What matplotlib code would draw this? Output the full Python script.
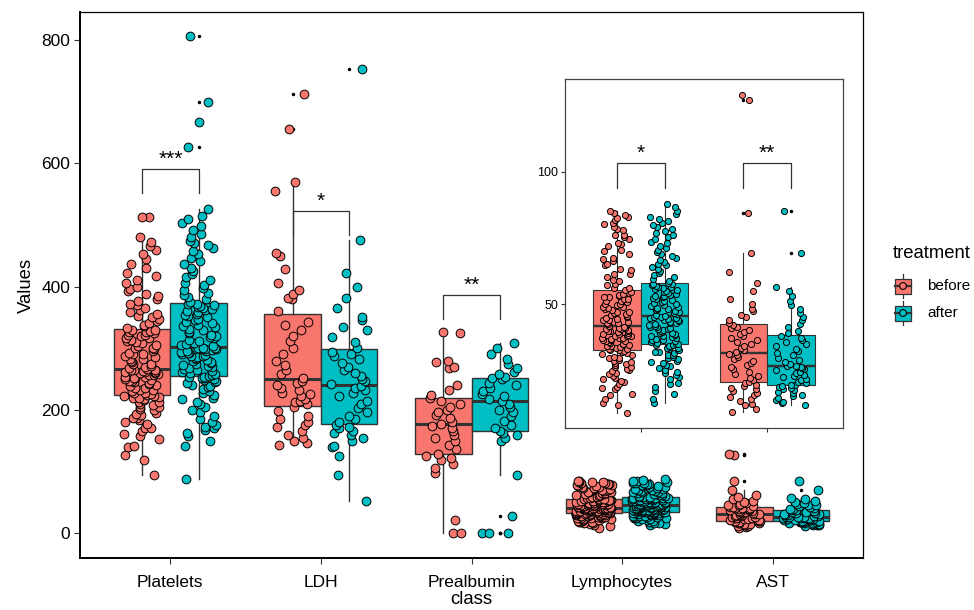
import numpy as np
import matplotlib
matplotlib.use('Agg')
import matplotlib.pyplot as plt
from matplotlib.patches import Rectangle, Circle

plt.rcParams['font.family'] = ['Liberation Sans', 'DejaVu Sans']

classes = ['Platelets', 'LDH', 'Prealbumin', 'Lymphocytes', 'AST']
treatments = ['before', 'after']
colors = {'before': '#F8766D', 'after': '#00BFC4'}

# values (one list per box)
platelets_before = [
    94, 118, 127, 139, 141, 152, 158, 161, 166, 170, 171, 177, 180, 183, 186, 187, 191, 194,
    195, 199, 201, 204, 204, 208, 210, 212, 213, 216, 217, 219, 220, 221, 222, 223, 224,
    225, 227, 227, 230, 232, 233, 236, 236, 239, 240, 242, 243, 245, 246, 247, 249, 250,
    251, 252, 254, 254, 256, 257, 258, 259, 260, 261, 262, 262, 263, 264, 264, 265, 265, 266,
    268, 270, 271, 274, 275, 278, 279, 282, 283, 285, 288, 290, 291, 293, 296, 298, 300,
    301, 304, 305, 308, 310, 311, 313, 316, 317, 319, 321, 322, 324, 326, 327, 328, 329, 330,
    333, 336, 338, 341, 344, 347, 350, 353, 355, 359, 362, 366, 370, 372, 377, 380, 384,
    388, 392, 396, 400, 405, 410, 417, 422, 430, 437, 445, 452, 460, 466, 472, 480,
    512, 513]
platelets_after = [
    88, 142, 150, 158, 163, 167, 170, 172, 176, 180, 185, 190, 196, 200, 204, 209, 213, 217,
    220, 224, 228, 231, 234, 237, 239, 241, 243, 245, 247, 248, 250, 251, 252, 253, 254,
    255, 257, 258, 260, 262, 263, 265, 266, 268, 270, 271, 273, 274, 276, 278, 279, 281,
    282, 284, 285, 287, 288, 289, 291, 292, 293, 294, 295, 296, 297, 298, 299, 300, 300, 301,
    303, 305, 307, 309, 311, 313, 316, 318, 320, 322, 325, 327, 329, 331, 334, 336, 338,
    341, 343, 345, 347, 350, 352, 354, 356, 358, 360, 362, 364, 366, 367, 369, 370, 371, 372,
    375, 379, 383, 386, 390, 394, 398, 402, 406, 410, 415, 420, 425, 430, 436, 441, 446,
    452, 458, 463, 467, 470, 474, 480, 486, 492, 498, 503, 510, 515, 525,
    627, 667, 699, 806]
ldh_before = [
    143, 146, 150, 155, 160, 166, 172, 175, 180, 185, 190, 198, 205,
    209, 212, 214, 218, 222, 225, 228, 232, 236, 240, 244, 247,
    252, 258, 265, 272, 280, 290, 300, 312, 320, 330, 338, 342,
    360, 380, 382, 388, 395, 405, 428, 450, 455,
    555, 570, 655, 712]
ldh_after = [
    53, 95, 125, 140, 142, 150, 155, 160, 163, 166, 170, 173,
    176, 180, 185, 190, 196, 203, 210, 215, 222, 228, 232, 235,
    238, 242, 246, 250, 255, 260, 265, 270, 276, 282, 288, 291, 294,
    300, 310, 318, 330, 335, 345, 350, 365, 382, 400, 422,
    476, 752]
prealbumin_before = [
    0, 0, 21, 98, 106, 112, 118, 122, 125, 128, 136, 143, 149, 155, 160, 165, 170, 174,
    177, 181, 186, 192, 196, 200, 205, 210, 215, 220, 224, 232, 241, 268, 270, 277, 279,
    324, 327]
prealbumin_after = [
    0, 0, 0, 28, 94, 150, 155, 160, 163, 165, 170, 176, 182, 190, 196, 200, 205, 210,
    215, 218, 222, 226, 230, 236, 240, 244, 250, 252, 254, 258, 262, 268, 275, 282, 290,
    300, 309]
lymphocytes_before = [
    8.8, 11.9, 12.6, 14.1, 15.8, 16.2, 17.9, 18.4, 18.6, 19.7, 20.5, 20.9, 21.8, 22.0, 22.7,
    23.6, 23.9, 24.8, 25.0, 25.3, 26.1, 26.2, 27.0, 27.5, 27.6, 28.3, 28.4, 29.0, 29.6, 29.8,
    30.2, 30.7, 31.0, 31.4, 31.9, 32.2, 32.5,
    32.7, 33.0, 33.1, 33.5, 33.9, 34.0, 34.2, 34.7, 34.9, 35.1, 35.2, 35.6, 35.9, 36.1, 36.4,
    36.4, 36.8, 37.1, 37.3, 37.3, 37.8, 38.0, 38.1, 38.5, 38.7, 38.8, 39.2, 39.3, 39.7, 39.9,
    40.0, 40.2, 40.5, 40.7, 41.0, 41.1, 41.3,
    41.6, 41.8, 42.3, 42.7, 42.8, 43.4, 43.9, 44.1, 44.3, 44.9, 45.2, 45.4, 46.0, 46.3, 46.6,
    47.0, 47.1, 47.8, 48.2, 48.4, 48.9, 49.0, 49.6, 50.0, 50.2, 50.7, 51.1, 51.3, 51.8, 52.0,
    52.5, 52.6, 53.1, 53.5, 53.9, 54.2, 54.5,
    55.2, 55.9, 56.1, 57.3, 57.6, 58.8, 59.0, 60.4, 61.2, 61.5, 62.9, 63.1, 64.6, 65.0, 66.3,
    67.2, 67.5, 68.9, 70.1, 70.4, 71.8, 72.6, 73.0, 74.4, 75.3, 76.1, 76.2, 77.9, 78.5, 79.2,
    80.3, 80.8, 81.6, 82.4, 83.0, 83.5, 84.3, 85.0]
lymphocytes_after = [
    12.6, 14.3, 16.0, 17.2, 18.5, 19.9, 20.3, 21.6, 22.4, 23.1, 23.9, 24.5, 25.2, 25.8, 26.6,
    27.0, 27.7, 28.2, 28.6, 29.3, 29.7, 30.1, 30.6, 30.9, 31.4, 31.8, 32.0, 32.5, 32.8, 33.1,
    33.3, 33.6, 33.9, 34.1, 34.4, 34.6, 34.9,
    35.1, 35.4, 35.6, 36.0, 36.3, 36.5, 36.9, 37.2, 37.4, 37.8, 38.0, 38.3, 38.7, 38.9, 39.2,
    39.5, 39.8, 40.1, 40.4, 40.6, 41.0, 41.2, 41.5, 41.9, 42.1, 42.4, 42.7, 43.0, 43.2, 43.6,
    43.8, 44.1, 44.3, 44.6, 44.8, 45.0, 45.2,
    45.5, 45.9, 46.2, 46.6, 46.9, 47.3, 47.6, 48.0, 48.3, 48.7, 49.0, 49.4, 49.7, 50.1, 50.4,
    50.8, 51.1, 51.5, 51.8, 52.2, 52.5, 52.9, 53.2, 53.6, 53.9, 54.3, 54.6, 55.0, 55.3, 55.7,
    56.0, 56.3, 56.6, 56.9, 57.1, 57.4, 57.6,
    58.1, 58.8, 59.4, 60.3, 61.0, 61.6, 62.5, 63.1, 63.9, 64.7, 65.2, 66.0, 66.8, 67.5, 68.3,
    69.0, 69.8, 70.6, 71.3, 72.1, 72.9, 73.6, 74.4, 75.2, 76.0, 76.8, 77.5, 78.3, 79.1, 79.8,
    80.6, 81.4, 82.1, 83.0, 84.2, 85.3, 86.5, 87.8]
ast_before = [
    9.2, 10.5, 11.8, 12.4, 13.5, 14.2, 15.0, 15.8, 16.5, 17.1, 17.8, 18.4, 19.0, 19.6, 20.1,
    20.6, 21.3, 22.0, 22.9, 23.6, 24.5, 25.3, 26.1, 27.0, 27.8, 28.5, 29.2, 30.0, 30.7, 31.3,
    31.8, 32.6, 33.4, 34.2, 35.0, 35.7, 36.5, 37.3, 38.1, 38.8, 39.4, 40.1, 40.8, 41.5, 42.2,
    43.0, 44.1, 45.3, 46.0, 47.5, 48.2, 50.1, 52.0, 55.0, 58.0, 62.0, 69.3,
    84.5, 127.0, 128.9]
ast_after = [
    11.8, 12.5, 13.1, 13.9, 14.6, 15.2, 15.8, 16.3, 16.9, 17.4, 17.9, 18.3, 18.7, 19.1, 19.3,
    19.6, 20.1, 20.7, 21.2, 21.8, 22.3, 22.9, 23.4, 24.0, 24.5, 25.0, 25.4, 25.8, 26.2, 26.5,
    26.8, 27.5, 28.3, 29.0, 29.8, 30.7, 31.5, 32.4, 33.2, 34.0, 34.9, 35.7, 36.5, 37.3, 38.1,
    38.9, 40.0, 41.2, 42.5, 43.8, 45.0, 46.5, 48.0, 49.5, 51.0, 53.0, 55.0, 56.4,
    69.3, 85.1]

values = {
    ('Platelets', 'before'): platelets_before, ('Platelets', 'after'): platelets_after,
    ('LDH', 'before'): ldh_before, ('LDH', 'after'): ldh_after,
    ('Prealbumin', 'before'): prealbumin_before, ('Prealbumin', 'after'): prealbumin_after,
    ('Lymphocytes', 'before'): lymphocytes_before, ('Lymphocytes', 'after'): lymphocytes_after,
    ('AST', 'before'): ast_before, ('AST', 'after'): ast_after,
}

# significance labels: class, stars, bracket top, bracket leg end
signif_main = [('Platelets', '***', 591, 552), ('LDH', '*', 523, 483), ('Prealbumin', '**', 387, 347)]
signif_inset = [('Lymphocytes', '*', 103.3, 93.8), ('AST', '**', 103.3, 93.8)]

GREY = '#333333'
DODGE = 0.1875


def jitter(n, seed, width=0.12):
    # horizontal spread only (like geom_jitter), scrambled but repeatable
    k = np.arange(1, n + 1)
    u = np.sin(k * 12.9898 + seed * 78.233) * 43758.5453
    return ((u % 1.0) * 2 - 1) * width


def draw_groups(ax, cats, ms, lw):
    for i, cat in enumerate(cats, start=1):
        for j, tr in enumerate(treatments):
            vals = np.array(values[(cat, tr)], dtype=float)
            pos = i - DODGE if j == 0 else i + DODGE
            ax.boxplot([vals], positions=[pos], widths=0.375, patch_artist=True,
                       showcaps=False, whis=1.5, manage_ticks=False, zorder=2,
                       boxprops=dict(facecolor=colors[tr], edgecolor=GREY, linewidth=lw),
                       whiskerprops=dict(color=GREY, linewidth=lw),
                       medianprops=dict(color=GREY, linewidth=lw * 2.2),
                       flierprops=dict(marker='o', markersize=1.5, markerfacecolor='black',
                                       markeredgecolor='black'))
            xs = pos + jitter(len(vals), seed=3 * i + j + 1)
            ax.scatter(xs, vals, s=ms ** 2, c=colors[tr], edgecolors='black',
                       linewidths=0.7, zorder=3)


def draw_signif(ax, cat_index, stars, top, leg, fs):
    x0, x1 = cat_index - DODGE, cat_index + DODGE
    ax.plot([x0, x0, x1, x1], [leg, top, top, leg], color=GREY, lw=0.9, zorder=4)
    ax.text(cat_index, top, stars, ha='center', va='bottom', fontsize=fs, zorder=4)


fig = plt.figure(figsize=(9.74, 6.10), dpi=100)

# main panel
ax = fig.add_axes([80 / 974, 52 / 610, 783 / 974, 546 / 610])
draw_groups(ax, classes, 6.3, 1.0)
for cat, stars, top, leg in signif_main:
    draw_signif(ax, classes.index(cat) + 1, stars, top, leg, 15)
ax.set_xlim(0.4, 5.6)
ax.set_ylim(-40.25, 845.25)
ax.set_xticks(range(1, len(classes) + 1))
ax.set_xticklabels(classes)
ax.set_yticks([0, 200, 400, 600, 800])
ax.tick_params(length=4, width=0.8, color=GREY, labelsize=12.5, labelcolor='black')
ax.tick_params(axis='x', pad=8)
ax.tick_params(axis='y', pad=3)
for s in ax.spines.values():
    s.set_linewidth(0.9)
    s.set_color('black')
ax.spines['left'].set_linewidth(1.4)
ax.spines['bottom'].set_linewidth(1.4)
ax.set_xlabel('class', fontsize=13.3, labelpad=1)
ax.set_ylabel('Values', fontsize=13.3, labelpad=5)

# inset zoom on Lymphocytes and AST
inset_cats = ['Lymphocytes', 'AST']
axi = fig.add_axes([565 / 974, 182 / 610, 278 / 974, 349 / 610])
draw_groups(axi, inset_cats, 4.4, 0.8)
for cat, stars, top, leg in signif_inset:
    draw_signif(axi, inset_cats.index(cat) + 1, stars, top, leg, 15)
axi.set_xlim(0.4, 2.6)
axi.set_ylim(3.2, 135)
axi.set_xticks([1, 2])
axi.set_xticklabels([])
axi.set_yticks([50, 100])
axi.tick_params(length=3, width=0.8, color=GREY, labelsize=9, pad=2)
for s in axi.spines.values():
    s.set_linewidth(0.9)
    s.set_color('#444444')

# legend drawn in pixel coordinates
lg = fig.add_axes([0, 0, 1, 1])
lg.set_xlim(0, 974)
lg.set_ylim(610, 0)
lg.axis('off')
lg.text(893, 253, 'treatment', ha='left', va='center', fontsize=13.3)
for tr, yc in zip(treatments, [286, 313]):
    lg.plot([903, 903], [yc - 12, yc + 12], color=GREY, lw=0.9, zorder=1)
    lg.add_patch(Rectangle((895, yc - 7.5), 16, 15, facecolor=colors[tr], edgecolor=GREY,
                           lw=0.9, zorder=2))
    lg.plot([895, 911], [yc, yc], color=GREY, lw=1.6, zorder=3)
    lg.add_patch(Circle((903, yc), 3.4, facecolor=colors[tr], edgecolor='black', lw=0.8, zorder=4))
    lg.text(927, yc, tr, ha='left', va='center', fontsize=11)

fig.savefig('out.png', dpi=100)
